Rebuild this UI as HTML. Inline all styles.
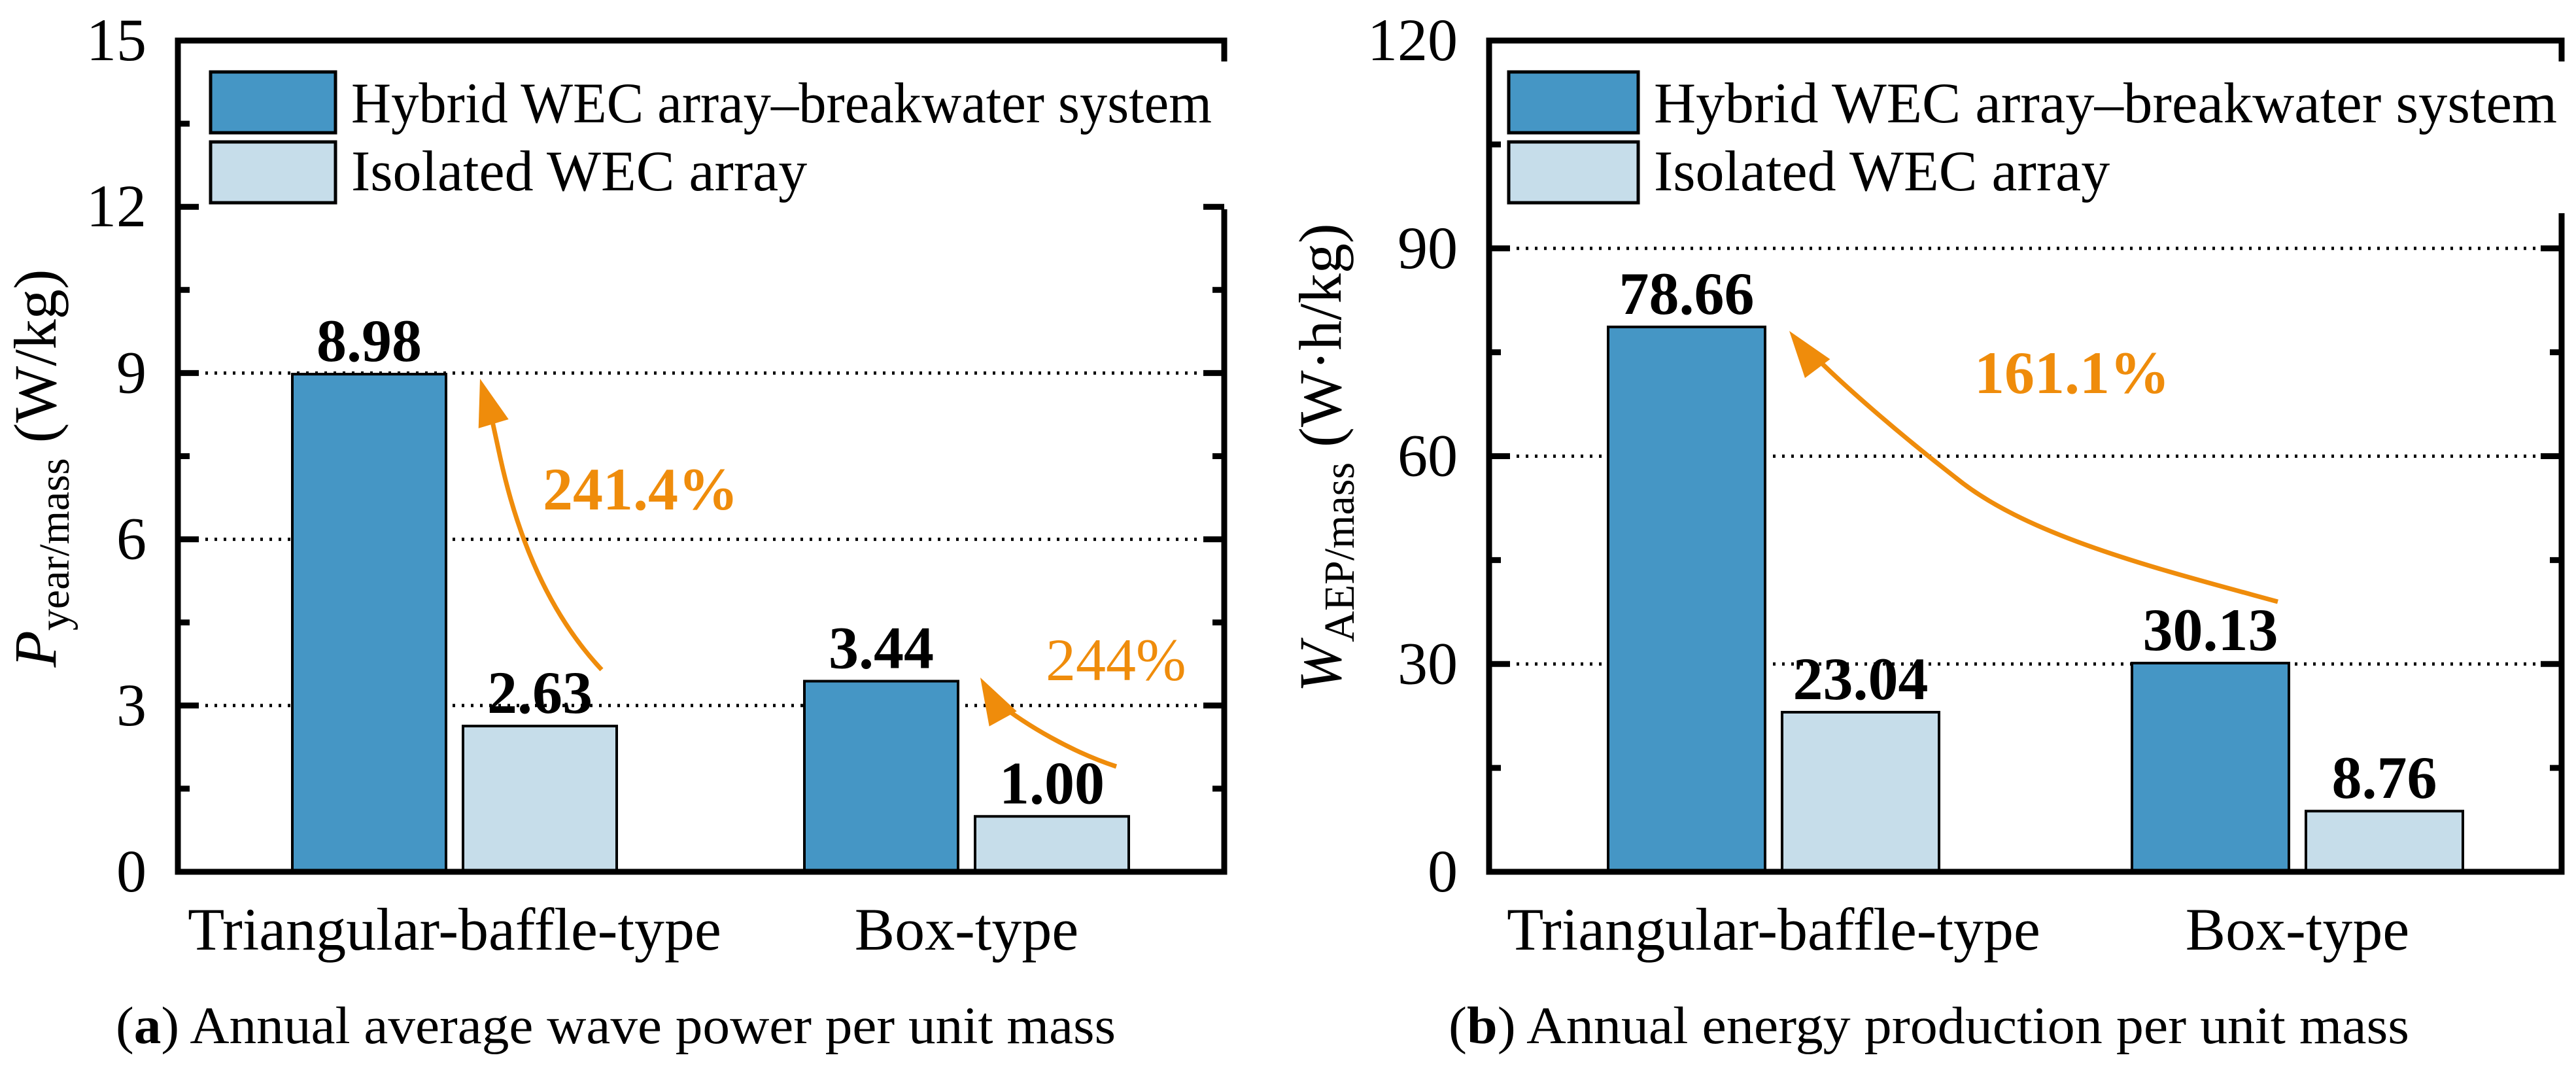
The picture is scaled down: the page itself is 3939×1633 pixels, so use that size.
<!DOCTYPE html>
<html><head><meta charset="utf-8"><style>
html,body{margin:0;padding:0;background:#fff;}
svg{display:block;font-family:"Liberation Serif",serif;}
</style></head><body>
<svg id="fig" width="3939" height="1633" viewBox="0 0 3939 1633" xmlns="http://www.w3.org/2000/svg">
<g id="pa"></g>
<g id="pb"></g>
</svg>
<script>
const categories = ["Triangular-baffle-type", "Box-type"];
const seriesNames = ["Hybrid WEC array\u2013breakwater system", "Isolated WEC array"];
const powerHybrid = [8.98, 3.44];
const powerIsolated = [2.63, 1.00];
const energyHybrid = [78.66, 30.13];
const energyIsolated = [23.04, 8.76];
const powerLabels = [["8.98","3.44"],["2.63","1.00"]];
const energyLabels = [["78.66","30.13"],["23.04","8.76"]];
const powerTicks = [0,3,6,9,12,15];
const energyTicks = [0,30,60,90,120];

const NS = "http://www.w3.org/2000/svg";
const COLORS = ["#4596C5", "#C6DDEA"];
const ORANGE = "#EF8C0B";
function el(tag, attrs, parent, text){
  const e = document.createElementNS(NS, tag);
  for (const k in attrs) e.setAttribute(k, attrs[k]);
  if (text !== undefined) e.textContent = text;
  parent.appendChild(e);
  return e;
}

function drawPanel(g, cfg){
  const y = v => cfg.bottom - (v - 0) * (cfg.bottom - cfg.top) / cfg.max;
  cfg.ticks.forEach(t => {
    if (t > 0 && t < cfg.max) {
      const gl = el("line", {x1: cfg.left, x2: cfg.right, y1: y(t), y2: y(t), stroke: "#000", "stroke-width": 5, "stroke-dasharray": "4 10"}, g);
      
      
    }
  });
  const series = [cfg.hyb, cfg.iso];
  series.forEach((vals, s) => {
    vals.forEach((v, i) => {
      const c = cfg.centers[i];
      const x0 = s === 0 ? c - cfg.gap - cfg.bw : c + cfg.gap;
      const r = el("rect", {x: x0, y: y(v), width: cfg.bw, height: cfg.bottom - y(v), fill: COLORS[s], stroke: "#000", "stroke-width": 4}, g);
      
      
      const lb = el("text", {x: x0 + cfg.bw/2, y: y(v) - 20, "text-anchor": "middle", "font-size": 92, "font-weight": "bold"}, g, cfg.labels[s][i]);
      
      
    });
  });
  const lgbg = el("rect", {x: cfg.lgX - 20, y: 90, width: cfg.right + 10 - (cfg.lgX - 20), height: cfg.lgH, fill: "#fff"}, g);
  
  
  seriesNames.forEach((nm, s) => {
    const sw = el("rect", {x: cfg.lgX, y: 110 + s*107, width: cfg.lgW, height: 93, fill: COLORS[s], stroke: "#000", "stroke-width": 5}, g);
    
    
    const attrs = {x: cfg.lgX + cfg.lgW + 24, y: 187 + s*104, "font-size": 88};
    if (s === 0) { attrs.textLength = cfg.lgTL; attrs.lengthAdjust = "spacingAndGlyphs"; }
    const tx = el("text", attrs, g, nm);
    
    
  });
  const fr = el("rect", {x: cfg.left, y: cfg.top, width: cfg.right - cfg.left, height: cfg.bottom - cfg.top, fill: "none", stroke: "#000", "stroke-width": 9}, g);
  
  
  const cov = el("rect", {x: cfg.right - 8, y: 94, width: 20, height: cfg.lgH - 6, fill: "#fff"}, g);
  
  
  for (let k = 0; k < cfg.ticks.length; k++) {
    const t = cfg.ticks[k];
    const tl = el("text", {x: cfg.left - 48, y: y(t) + 30, "text-anchor": "end", "font-size": 92}, g, String(t));
    
    
    if (t > 0 && t < cfg.max) {
      [[cfg.left, cfg.left + 32], [cfg.right, cfg.right - 32]].forEach(p => {
        const tk = el("line", {x1: p[0], x2: p[1], y1: y(t), y2: y(t), stroke: "#000", "stroke-width": 9}, g);
        
        
      });
    }
    if (k < cfg.ticks.length - 1) {
      const m = (t + cfg.ticks[k+1]) / 2;
      [[cfg.left, cfg.left + 18], [cfg.right, cfg.right - 18]].forEach((p, j) => {
        if (j === 1 && y(m) < 94 + cfg.lgH) return;
        const mt = el("line", {x1: p[0], x2: p[1], y1: y(m), y2: y(m), stroke: "#000", "stroke-width": 9}, g);
        
        
      });
    }
  }
  categories.forEach((c, i) => {
    const cl = el("text", {x: cfg.centers[i], y: 1452, "text-anchor": "middle", "font-size": 92}, g, c);
    
    
  });
  return y;
}

function arrow(g, d, tip, dir, name){
  const p = el("path", {d: d, fill: "none", stroke: ORANGE, "stroke-width": 7}, g);
  
  
  const a = Math.atan2(dir[1], dir[0]);
  const L = 72, W = 24;
  const bx = tip[0] - L*Math.cos(a), by = tip[1] - L*Math.sin(a);
  const px = -Math.sin(a)*W, py = Math.cos(a)*W;
  const h = el("polygon", {points: `${tip[0]},${tip[1]} ${bx+px},${by+py} ${bx-px},${by-py}`, fill: ORANGE}, g);
  
  
}

const ga = document.getElementById('pa');
drawPanel(ga, {left: 272, right: 1872, top: 62, bottom: 1333, max: 15, ticks: powerTicks,
  hyb: powerHybrid, iso: powerIsolated, labels: powerLabels, centers: [695, 1478], bw: 235, gap: 13,
  lgX: 322, lgW: 191, lgH: 232, lgTL: 1316});
const gb = document.getElementById('pb');
drawPanel(gb, {left: 2277, right: 3917, top: 62, bottom: 1333, max: 120, ticks: energyTicks,
  hyb: energyHybrid, iso: energyIsolated, labels: energyLabels, centers: [2712, 3513], bw: 240, gap: 13,
  lgX: 2307, lgW: 198, lgH: 238, lgTL: 1381});

arrow(ga, "M920,1024 C860,960 800,860 765,700 L752,640", [734,579], [-0.3,-1], "arrow-241");
let t1 = el("text", {x: 830, y: 779, "font-size": 92, "font-weight": "bold", fill: ORANGE}, ga, "241.4%");


arrow(ga, "M1707,1172 C1640,1150 1570,1110 1520,1070", [1499,1036], [-0.55,-1], "arrow-244");
let t2 = el("text", {x: 1599, y: 1040, "font-size": 92, fill: ORANGE}, ga, "244%");


arrow(gb, "M3483,920 C3300,870 3100,820 2990,730 C2900,660 2820,590 2775,545", [2736,506], [-0.75,-1], "arrow-161");
let t3 = el("text", {x: 3019, y: 601, "font-size": 92, "font-weight": "bold", fill: ORANGE}, gb, "161.1%");



let ya = el("text", {transform: "translate(85,716) rotate(-90)", "text-anchor": "middle", "font-size": 92}, ga);


el("tspan", {"font-style": "italic"}, ya, "P");
el("tspan", {"font-size": 66, dy: 20}, ya, "year/mass");
el("tspan", {dy: -20}, ya, " (W/kg)");
let yb = el("text", {transform: "translate(2050,700) rotate(-90)", "text-anchor": "middle", "font-size": 92}, gb);


el("tspan", {"font-style": "italic"}, yb, "W");
el("tspan", {"font-size": 66, dy: 20}, yb, "AEP/mass");
el("tspan", {dy: -20}, yb, " (W\u00b7h/kg)");

let ca = el("text", {x: 177, y: 1595, "font-size": 80, textLength: 1529, lengthAdjust: "spacingAndGlyphs"}, ga);


el("tspan", {}, ca, "(");
el("tspan", {"font-weight": "bold"}, ca, "a");
el("tspan", {}, ca, ") Annual average wave power per unit mass");
let cb = el("text", {x: 2215, y: 1595, "font-size": 80, textLength: 1469, lengthAdjust: "spacingAndGlyphs"}, gb);


el("tspan", {}, cb, "(");
el("tspan", {"font-weight": "bold"}, cb, "b");
el("tspan", {}, cb, ") Annual energy production per unit mass");
</script>
</body></html>
